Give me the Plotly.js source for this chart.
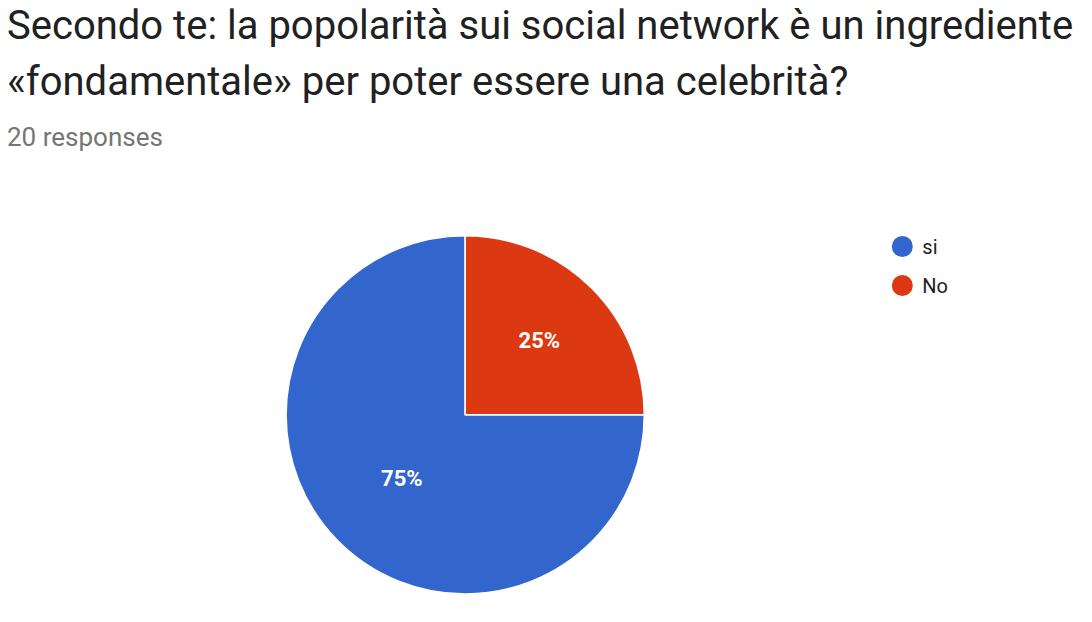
<!DOCTYPE html>
<html>
<head>
<meta charset="utf-8">
<script src="https://cdn.plot.ly/plotly-3.0.1.min.js"></script>
<style>
  html, body { margin: 0; padding: 0; background: #fff; }
  #chart { width: 1092px; height: 622px; }
</style>
</head>
<body>
<div id="chart"></div>
<script>
var labels = ["si", "No"]
var counts = [15, 5] // 20 responses: 75% / 25%
var colors = ["#3366cc", "#dc3912"]
var titleLines = [
  "Secondo te: la popolarità sui social network è un ingrediente",
  "«fondamentale» per poter essere una celebrità?",
]
var subtitle = "20 responses"

var data = [
  {
    type: "pie",
    labels: labels,
    values: counts,
    sort: false,
    direction: "counterclockwise",
    rotation: 90,
    marker: { colors: colors, line: { color: "#ffffff", width: 1.5 } },
    textinfo: "percent",
    textposition: "inside",
    insidetextorientation: "horizontal",
    texttemplate: "<b>%{percent:.0%}</b>",
    textfont: { family: "Roboto, Arial, sans-serif", size: 22, color: "#ffffff" },
    domain: { x: [0.262, 0.590], y: [0.045, 0.621] },
    showlegend: false,
    hoverinfo: "label+value+percent",
  },
]

// legend entries drawn as round markers, like the original
labels.forEach(function (lab, i) {
  data.push({
    type: "scatter",
    mode: "markers",
    x: [null],
    y: [null],
    name: lab,
    legendgroup: lab,
    marker: { color: colors[i], size: 22, symbol: "circle", line: { color: colors[i], width: 5 } },
    showlegend: true,
  })
})

var layout = {
  width: 1092,
  height: 622,
  margin: { t: 0, r: 0, l: 0, b: 0 },
  paper_bgcolor: "#ffffff",
  plot_bgcolor: "#ffffff",
  font: { family: "Roboto, Arial, sans-serif", color: "#212121" },
  xaxis: { visible: false },
  yaxis: { visible: false },
  showlegend: true,
  legend: {
    x: 0.808,
    y: 0.635,
    xanchor: "left",
    yanchor: "top",
    font: { size: 20, color: "#212121" },
    traceorder: "grouped",
    tracegroupgap: 10,
    bgcolor: "rgba(0,0,0,0)",
  },
  annotations: [
    {
      text: titleLines[0],
      xref: "paper", yref: "paper",
      x: 0.005, y: 1 - 25 / 622,
      xanchor: "left", yanchor: "middle",
      showarrow: false,
      font: { size: 40, color: "#212121" },
    },
    {
      text: titleLines[1],
      xref: "paper", yref: "paper",
      x: 0.005, y: 1 - 81 / 622,
      xanchor: "left", yanchor: "middle",
      showarrow: false,
      font: { size: 40, color: "#212121" },
    },
    {
      text: subtitle,
      xref: "paper", yref: "paper",
      x: 0.005, y: 1 - 137 / 622,
      xanchor: "left", yanchor: "middle",
      showarrow: false,
      font: { size: 26, color: "#757575" },
    },
  ],
}

Plotly.newPlot("chart", data, layout, { displayModeBar: false })
</script>
</body>
</html>
